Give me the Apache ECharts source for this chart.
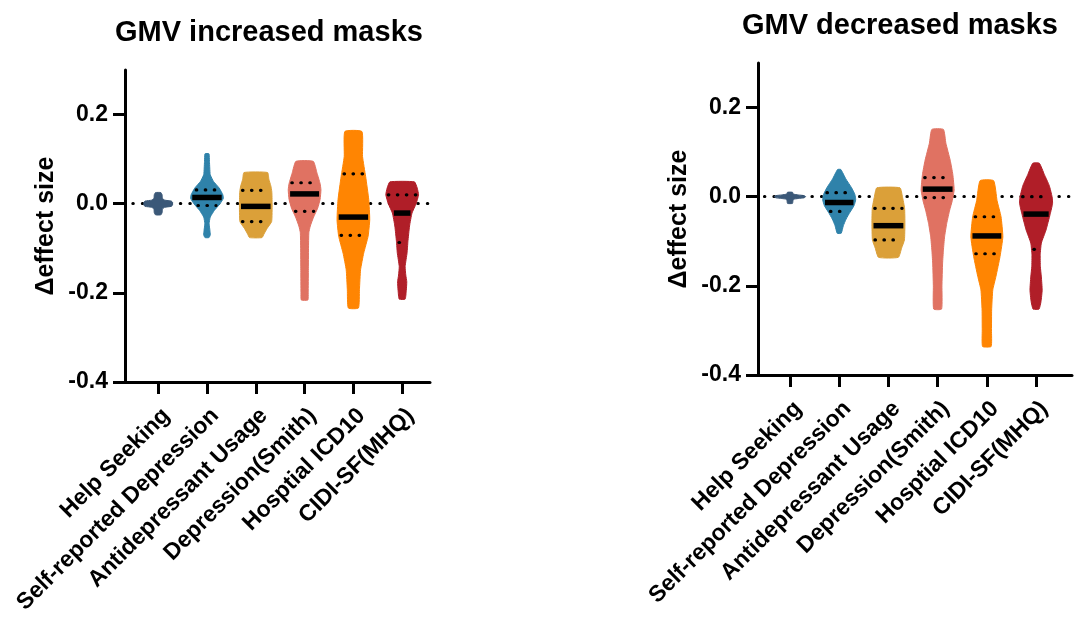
<!DOCTYPE html>
<html><head><meta charset="utf-8">
<script src="https://cdn.jsdelivr.net/npm/echarts@6/dist/echarts.min.js"></script>
<style>html,body{margin:0;padding:0;background:#fff}#c{width:1090px;height:623px}</style>
</head><body><div id="c"></div>
<script>
// ---------- DATA ----------
const categories = ['Help Seeking','Self-reported Depression','Antidepressant Usage','Depression(Smith)','Hosptial ICD10','CIDI-SF(MHQ)'];
const titles = ['GMV increased masks','GMV decreased masks'];
const yTicks = [-0.4,-0.2,0,0.2];
const catPos = [1,2,3,4,5,6];

// medians / quartiles (null = not drawn)
const incMedian = [null, 0.014, -0.006, 0.022, -0.030, -0.021];
const incQ3     = [null, 0.031,  0.030, 0.047,  0.067,  0.020];
const incQ1     = [null,-0.004, -0.040,-0.017, -0.071, -0.087];
const decMedian = [null,-0.013, -0.065, 0.017, -0.088, -0.039];
const decQ3     = [null, 0.009, -0.026, 0.043, -0.045,  0.000];
const decQ1     = [null,-0.033, -0.097,-0.002, -0.128, -0.118];

// density profiles: [value, relative density width]
const incHelp = [[0.025,0.16],[0.02,0.24],[0.012,0.26],[0.008,0.4],[0.006,0.8],[0.003,0.88],[0,0.88],[-0.003,0.88],[-0.006,0.8],[-0.008,0.4],[-0.012,0.26],[-0.02,0.24],[-0.025,0.16]];
const incSelf = [[0.112,0.12],[0.095,0.15],[0.08,0.17],[0.065,0.2],[0.05,0.4],[0.035,0.75],[0.02,0.97],[0.012,1.0],[0.0,0.8],[-0.015,0.45],[-0.03,0.2],[-0.045,0.13],[-0.06,0.18],[-0.07,0.2],[-0.076,0.12]];
const incAnti = [[0.070,0.72],[0.055,0.8],[0.04,0.92],[0.027,0.98],[0.0,1.0],[-0.04,0.97],[-0.055,0.7],[-0.068,0.5],[-0.076,0.38]];
const incSmith = [[0.095,0.53],[0.07,0.75],[0.045,0.95],[0.031,1.0],[0.01,0.95],[-0.01,0.8],[-0.03,0.55],[-0.05,0.35],[-0.065,0.26],[-0.1,0.24],[-0.15,0.23],[-0.2,0.22],[-0.216,0.2]];
const incHosp = [[0.162,0.52],[0.106,0.56],[0.061,0.75],[0.009,0.94],[-0.036,1.0],[-0.073,0.9],[-0.111,0.63],[-0.148,0.44],[-0.193,0.37],[-0.234,0.31]];
const incCidi = [[0.049,0.75],[0.035,0.92],[0.02,1.0],[0.0,0.85],[-0.021,0.6],[-0.05,0.45],[-0.085,0.35],[-0.11,0.3],[-0.141,0.18],[-0.16,0.22],[-0.175,0.28],[-0.195,0.25],[-0.214,0.18]];

const decHelp = [[0.010,0.15],[0.006,0.2],[0.004,0.5],[0.0025,0.85],[0,0.95],[-0.0025,0.85],[-0.004,0.5],[-0.006,0.2],[-0.015,0.15]];
const decSelf = [[0.061,0.1],[0.04,0.4],[0.02,0.75],[0.005,0.95],[-0.007,1.0],[-0.02,0.9],[-0.035,0.65],[-0.05,0.42],[-0.065,0.25],[-0.082,0.12]];
const decAnti = [[0.020,0.7],[0.0,0.85],[-0.026,0.98],[-0.06,1.0],[-0.097,0.97],[-0.115,0.8],[-0.136,0.6]];
const decSmith = [[0.151,0.35],[0.12,0.5],[0.082,0.76],[0.05,0.92],[0.015,1.0],[-0.01,0.88],[-0.03,0.73],[-0.06,0.55],[-0.09,0.42],[-0.12,0.35],[-0.149,0.3],[-0.2,0.26],[-0.252,0.24]];
const decHosp = [[0.036,0.41],[-0.009,0.62],[-0.045,0.86],[-0.09,0.97],[-0.134,0.8],[-0.179,0.55],[-0.209,0.36],[-0.254,0.29],[-0.299,0.28],[-0.336,0.26]];
const decCidi = [[0.075,0.2],[0.05,0.5],[0.025,0.8],[0.0,0.97],[-0.015,1.0],[-0.04,0.85],[-0.075,0.6],[-0.104,0.32],[-0.13,0.25],[-0.157,0.26],[-0.18,0.32],[-0.209,0.37],[-0.235,0.3],[-0.252,0.18]];

// ---------- STYLE ----------
const colors = ['#3b5878','#2f82aa','#dba039','#e07262','#ff8502','#b01e28'];
const FONT = 'Liberation Sans, Arial, sans-serif';
const MAXW = 0.335; // half width of violin in category units

function widthAt(prof, v) {
  for (let k = 0; k < prof.length - 1; k++) {
    const a = prof[k], b = prof[k+1];
    if (v <= a[0] && v >= b[0]) {
      const t = (a[0] - v) / (a[0] - b[0] || 1);
      return a[1] + (b[1] - a[1]) * t;
    }
  }
  return 0;
}

function makeRender(profiles, med, q1, q3) {
  return function (params, api) {
    const i = params.dataIndex;
    const xc = api.value(0);
    const prof = profiles[i];
    const halfPx = api.size([MAXW, 0])[0];
    const cx = api.coord([xc, 0])[0];
    const right = prof.map(p => [cx + p[1] * halfPx, api.coord([xc, p[0]])[1]]);
    const left = prof.slice().reverse().map(p => [cx - p[1] * halfPx, api.coord([xc, p[0]])[1]]);
    const children = [{
      type: 'polygon',
      shape: { points: right.concat(left), smooth: 0.15 },
      style: { fill: colors[i], stroke: colors[i], lineWidth: 1 }
    }];
    function hline(v, thick) {
      const y = api.coord([xc, v])[1];
      const w = widthAt(prof, v) * halfPx - (thick ? 1.5 : 2.5);
      if (thick) {
        children.push({ type: 'line', shape: { x1: cx - w, y1: y, x2: cx + w, y2: y },
          style: { stroke: '#000', lineWidth: 5.5 } });
      } else {
        children.push({ type: 'line', shape: { x1: cx - w, y1: y, x2: cx + w, y2: y },
          style: { stroke: '#000', lineWidth: 3.2, lineDash: [0.5, 8.5], lineCap: 'round' } });
      }
    }
    if (med[i] != null) hline(med[i], true);
    if (q3[i] != null) hline(q3[i], false);
    if (q1[i] != null) hline(q1[i], false);
    return { type: 'group', children };
  };
}

const chart = echarts.init(document.getElementById('c'));

const grids = [
  { left: 125, right: 660, top: 70, bottom: 241 },
  { left: 758, right: 18, top: 63, bottom: 248 }
];
const xRanges = [[0.32, 6.57], [0.35, 6.73]];

function xAxisOf(g) {
  return {
    gridIndex: g, type: 'value', min: xRanges[g][0], max: xRanges[g][1],
    axisLine: { show: true, onZero: false, lineStyle: { color: '#000', width: 3 } },
    axisTick: { show: true, customValues: catPos, length: 12, lineStyle: { color: '#000', width: 3 } },
    axisLabel: { show: true, customValues: catPos, formatter: v => categories[Math.round(v) - 1],
      rotate: 45, margin: 22, verticalAlign: 'top', color: '#000', fontSize: 23, fontWeight: 'bold', fontFamily: FONT },
    splitLine: { show: false }
  };
}
function yAxisOf(g) {
  return {
    gridIndex: g, type: 'value', min: -0.4, max: 0.3,
    axisLine: { show: true, onZero: false, lineStyle: { color: '#000', width: 3 } },
    axisTick: { show: true, customValues: yTicks, length: 12, lineStyle: { color: '#000', width: 3 } },
    axisLabel: { show: true, customValues: yTicks, formatter: v => (Math.abs(v) < 1e-9 ? 0 : v).toFixed(1),
      margin: 17, color: '#000', fontSize: 23, fontWeight: 'bold', fontFamily: FONT },
    splitLine: { show: false },
    name: 'Δeffect size', nameLocation: 'middle', nameGap: 66,
    nameTextStyle: { color: '#000', fontSize: 25, fontWeight: 'bold', fontFamily: FONT }
  };
}

function zeroLine(g) {
  return {
    type: 'line', xAxisIndex: g, yAxisIndex: g, data: [], z: 1, silent: true,
    markLine: {
      silent: true, symbol: 'none', z: 1, animation: false,
      label: { show: false },
      lineStyle: { color: '#000', width: 3, type: [0.5, 9], cap: 'round' },
      emphasis: { disabled: true },
      data: [[{ coord: [0.48, 0] }, { coord: [xRanges[g][1], 0] }]]
    }
  };
}

const incData = catPos.map((x, i) => [x, incMedian[i] == null ? 0 : incMedian[i]]);
const decData = catPos.map((x, i) => [x, decMedian[i] == null ? 0 : decMedian[i]]);

chart.setOption({
  animation: false,
  backgroundColor: '#fff',
  title: [
    { text: titles[0], left: 115, top: 18, padding: 0, textStyle: { fontSize: 29, fontWeight: 'bold', color: '#000', fontFamily: FONT } },
    { text: titles[1], left: 742, top: 11, padding: 0, textStyle: { fontSize: 29, fontWeight: 'bold', color: '#000', fontFamily: FONT } }
  ],
  grid: grids,
  xAxis: [xAxisOf(0), xAxisOf(1)],
  yAxis: [yAxisOf(0), yAxisOf(1)],
  series: [
    zeroLine(0), zeroLine(1),
    { type: 'custom', xAxisIndex: 0, yAxisIndex: 0, z: 10, silent: true,
      renderItem: makeRender([incHelp, incSelf, incAnti, incSmith, incHosp, incCidi], incMedian, incQ1, incQ3),
      encode: { x: 0, y: 1 }, data: incData },
    { type: 'custom', xAxisIndex: 1, yAxisIndex: 1, z: 10, silent: true,
      renderItem: makeRender([decHelp, decSelf, decAnti, decSmith, decHosp, decCidi], decMedian, decQ1, decQ3),
      encode: { x: 0, y: 1 }, data: decData }
  ]
});
</script></body></html>
